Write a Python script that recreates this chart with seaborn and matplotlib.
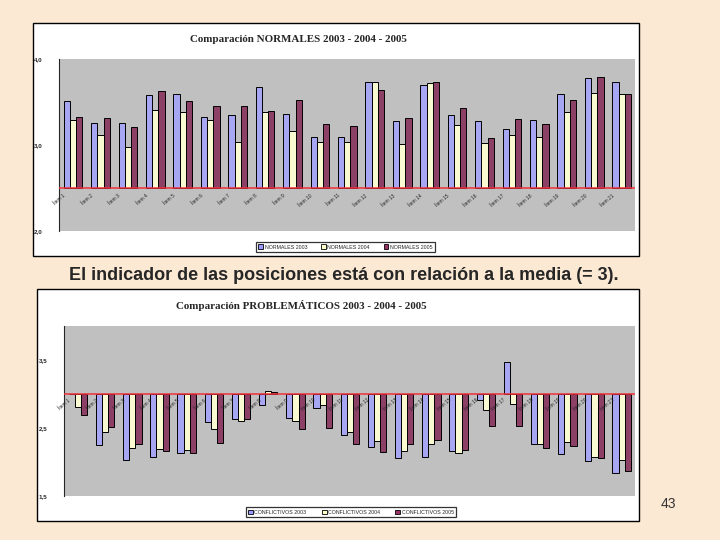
import numpy as np
import pandas as pd
import matplotlib
matplotlib.use("Agg")
import matplotlib.pyplot as plt
from matplotlib.patches import Rectangle, Patch
from matplotlib.ticker import FuncFormatter
import seaborn as sns

### Data ###

categorias = ["Ítem 1", "Ítem 2", "Ítem 3", "Ítem 4", "Ítem 5", "Ítem 6", "Ítem 7",
              "Ítem 8", "Ítem 9", "Ítem 10", "Ítem 11", "Ítem 12", "Ítem 13", "Ítem 14",
              "Ítem 15", "Ítem 16", "Ítem 17", "Ítem 18", "Ítem 19", "Ítem 20", "Ítem 21"]

normales_2003 = [3.51, 3.26, 3.26, 3.58, 3.59, 3.33, 3.35, 3.68, 3.36, 3.09, 3.09,
                 3.73, 3.28, 3.70, 3.35, 3.28, 3.19, 3.29, 3.59, 3.78, 3.73]
normales_2004 = [3.29, 3.12, 2.98, 3.41, 3.38, 3.29, 3.03, 3.38, 3.16, 3.03, 3.03,
                 3.73, 3.01, 3.72, 3.23, 3.02, 3.12, 3.09, 3.38, 3.61, 3.59]
normales_2005 = [3.33, 3.32, 3.21, 3.63, 3.51, 3.45, 3.46, 3.40, 3.53, 3.25, 3.22,
                 3.64, 3.31, 3.73, 3.43, 3.08, 3.30, 3.24, 3.52, 3.79, 3.60]

problem_2003 = [3.00, 2.24, 2.03, 2.07, 2.13, 2.59, 2.63, 2.84, 2.64, 2.79, 2.39,
                2.21, 2.05, 2.07, 2.16, 2.91, 3.46, 2.26, 2.11, 2.01, 1.83]
problem_2004 = [2.81, 2.43, 2.20, 2.19, 2.17, 2.48, 2.60, 3.04, 2.60, 2.84, 2.43,
                2.30, 2.16, 2.26, 2.13, 2.76, 2.85, 2.26, 2.29, 2.07, 2.02]
problem_2005 = [2.69, 2.51, 2.26, 2.16, 2.13, 2.27, 2.63, 3.03, 2.48, 2.50, 2.26,
                2.14, 2.26, 2.32, 2.17, 2.53, 2.53, 2.20, 2.23, 2.05, 1.87]

series_norm = ["NORMALES 2003", "NORMALES 2004", "NORMALES 2005"]
series_prob = ["CONFLICTIVOS 2003", "CONFLICTIVOS 2004", "CONFLICTIVOS 2005"]

colores = ["#9999FF", "#FFFFCC", "#993366"]
fondo = "#FCE9D3"


def largo(valores, nombres, cruce):
    filas = []
    for nombre, vals in zip(nombres, valores):
        for cat, v in zip(categorias, vals):
            filas.append({"cat": cat, "serie": nombre, "valor": v, "desv": v - cruce})
    return pd.DataFrame(filas)


def grafico(fig, rect, df, cruce, ylim, ticks, nombres, titulo, caja, leyenda, colsp):
    # white chart box, kept behind the axes
    fig.patches.append(Rectangle(caja[:2], caja[2], caja[3], transform=fig.transFigure,
                                 facecolor="white", edgecolor="black", lw=1.0, zorder=-5))
    ax = fig.add_axes(rect)
    ax.set_zorder(2)
    ax.set_facecolor("#C0C0C0")
    sns.barplot(data=df, x="cat", y="desv", hue="serie", palette=colores,
                edgecolor="black", linewidth=0.7, width=0.68, ax=ax, legend=False,
                zorder=2)
    ax.axhline(0, color="#F0303A", lw=1.1, zorder=3)
    ax.set_ylim(ylim[0] - cruce, ylim[1] - cruce)
    ax.set_xlim(-0.5, len(categorias) - 0.5)
    ax.set_yticks([t - cruce for t in ticks])
    ax.yaxis.set_major_formatter(FuncFormatter(
        lambda v, p: f"{v + cruce:.1f}".replace(".", ",")))
    ax.tick_params(axis="y", labelsize=4.5, length=2, width=0.6, pad=10)
    for lab in ax.get_yticklabels():
        lab.set_fontweight("bold")
    ax.set_xticks([])
    ax.set_xlabel("")
    ax.set_ylabel("")
    for s in ["top", "right", "bottom"]:
        ax.spines[s].set_visible(False)
    ax.spines["left"].set_linewidth(0.8)
    # rotated category labels sitting under the crossing line
    for i, cat in enumerate(categorias):
        ax.text(i - 0.35, -0.06, cat, rotation=40, rotation_mode="anchor",
                ha="right", va="top", fontsize=3.5, zorder=4)
    fig.text(rect[0] + rect[2] * 0.415, caja[1] + caja[3] - 0.03, titulo,
             family="Liberation Serif", fontweight="bold", fontsize=7.9,
             ha="center", va="center")
    handles = [Patch(facecolor=c, edgecolor="black", lw=0.6) for c in colores]
    leg = fig.legend(handles, nombres, loc="center", bbox_to_anchor=leyenda,
                     ncol=3, fontsize=3.8, frameon=True, fancybox=False,
                     edgecolor="black", handlelength=0.9, handleheight=0.9,
                     handletextpad=0.3, columnspacing=colsp, borderpad=0.4)
    leg.get_frame().set_linewidth(0.9)
    return ax


sns.set_style("white")
plt.rcParams["font.family"] = ["Liberation Sans", "DejaVu Sans"]

fig = plt.figure(figsize=(7.2, 5.4), dpi=100)
fig.patch.set_facecolor(fondo)

df_norm = largo([normales_2003, normales_2004, normales_2005], series_norm, 2.5)
df_prob = largo([problem_2003, problem_2004, problem_2005], series_prob, 3.0)

grafico(fig, [0.0824, 0.5728, 0.800, 0.3174], df_norm, 2.5, (2.0, 4.0),
        [2.0, 3.0, 4.0], series_norm, "Comparación NORMALES 2003 - 2004 - 2005",
        (0.0458, 0.5259, 0.8417, 0.4315), (0.4799, 0.5426), 2.6)

grafico(fig, [0.0893, 0.0820, 0.7931, 0.3148], df_prob, 3.0, (1.5, 4.0),
        [1.5, 2.5, 3.5], series_prob, "Comparación PROBLEMÁTICOS 2003 - 2004 - 2005",
        (0.0514, 0.0352, 0.8361, 0.4296), (0.4875, 0.0518), 2.9)

fig.text(0.478, 1 - 275 / 540, "El indicador de las posiciones está con relación a la media (= 3).",
         fontsize=13, fontweight="bold", ha="center", va="center")
fig.text(0.928, 1 - 504 / 540, "43", fontsize=10, color="#333333",
         ha="center", va="center")

fig.savefig("out.png", dpi=100, facecolor=fondo)
